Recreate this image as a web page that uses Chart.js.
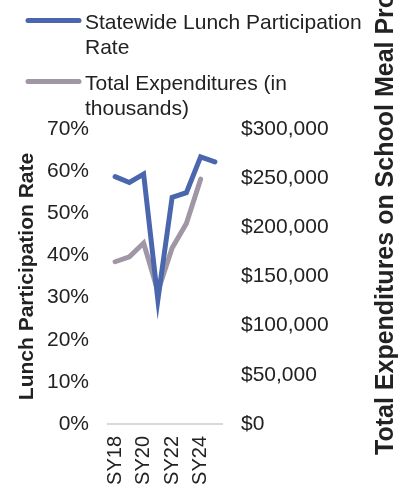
<!DOCTYPE html>
<html>
<head>
<meta charset="utf-8">
<script src="https://cdn.jsdelivr.net/npm/chart.js@4/dist/chart.umd.min.js"></script>
<style>
html,body{margin:0;padding:0;background:#fff;}
#wrap{width:409px;height:491px;position:relative;overflow:hidden;}
canvas{display:block;}
</style>
</head>
<body>
<div id="wrap"><canvas id="c" width="409" height="491"></canvas></div>
<script>
// ---- data ----
const categories = ['SY18', 'SY19', 'SY20', 'SY21', 'SY22', 'SY23', 'SY24', 'SY25'];
const participationRate = [58.7, 57.3, 59.3, 29.5, 53.8, 54.9, 63.4, 62.2];
const totalExpenditures = [165000, 170000, 184000, 135000, 179000, 204000, 249000, null];
const seriesNames = ['Statewide Lunch Participation Rate', 'Total Expenditures (in thousands)'];
const legendLines = [['Statewide Lunch Participation', 'Rate'], ['Total Expenditures (in', 'thousands)']];
const leftAxisTitle = 'Lunch Participation Rate';
const rightAxisTitle = 'Total Expenditures on School Meal Programs (in thousands)';
const leftTickMax = 70;
const rightTickMax = 300000;

const FONT = '"Liberation Sans", Arial, sans-serif';
const TEXT = '#222222';
const BLUE = '#4A67AE';
const GRAY = '#A096A6';

const legendPlugin = {
  id: 'customLegend',
  afterDraw(chart) {
    const ctx = chart.ctx;
    ctx.save();
    const entries = [
      { lines: legendLines[0], color: chart.data.datasets[0].borderColor, y: 20.5 },
      { lines: legendLines[1], color: chart.data.datasets[1].borderColor, y: 81.5 }
    ];
    ctx.font = '21px ' + FONT;
    ctx.fillStyle = TEXT;
    ctx.textAlign = 'left';
    ctx.textBaseline = 'alphabetic';
    entries.forEach(e => {
      ctx.strokeStyle = e.color;
      ctx.lineWidth = 5;
      ctx.lineCap = 'round';
      ctx.beginPath();
      ctx.moveTo(28, e.y);
      ctx.lineTo(79, e.y);
      ctx.stroke();
      e.lines.forEach((t, i) => {
        ctx.fillText(t, 85, e.y + 8 + i * 25);
      });
    });
    // right axis title (reads bottom to top)
    ctx.translate(393, 455);
    ctx.rotate(-Math.PI / 2);
    ctx.font = 'bold 25px ' + FONT;
    ctx.textAlign = 'left';
    ctx.textBaseline = 'alphabetic';
    ctx.fillText(rightAxisTitle, 0, 0);
    ctx.restore();
  }
};

new Chart(document.getElementById('c'), {
  type: 'line',
  data: {
    labels: categories,
    datasets: [
      {
        label: seriesNames[0],
        data: participationRate,
        yAxisID: 'y',
        borderColor: BLUE,
        backgroundColor: BLUE,
        borderWidth: 5,
        borderCapStyle: 'round',
        pointRadius: 0,
        tension: 0
      },
      {
        label: seriesNames[1],
        data: totalExpenditures,
        yAxisID: 'y2',
        borderColor: GRAY,
        backgroundColor: GRAY,
        borderWidth: 5,
        borderCapStyle: 'round',
        pointRadius: 0,
        tension: 0
      }
    ]
  },
  options: {
    responsive: false,
    animation: false,
    devicePixelRatio: 1,
    layout: { padding: { top: 129, left: 0, right: 0, bottom: 0 } },
    plugins: {
      legend: { display: false },
      tooltip: { enabled: false }
    },
    scales: {
      x: {
        offset: true,
        grid: { display: false, drawTicks: false },
        border: { display: true, color: '#D9D9D9', width: 2 },
        ticks: {
          autoSkip: false,
          minRotation: 90,
          maxRotation: 90,
          padding: 12,
          color: TEXT,
          font: { family: FONT, size: 20 },
          callback: function (v, i) { return i % 2 === 0 ? categories[i] : ''; }
        },
        afterFit(s) { s.height = 67; }
      },
      y: {
        position: 'left',
        min: 0,
        max: leftTickMax,
        grid: { display: false, drawTicks: false },
        border: { display: false },
        ticks: {
          stepSize: 10,
          padding: 19,
          color: TEXT,
          font: { family: FONT, size: 21 },
          callback: v => v + '%'
        },
        title: {
          display: true,
          text: leftAxisTitle,
          color: TEXT,
          font: { family: FONT, size: 21, weight: 'bold' },
          padding: { top: 15, bottom: 0 }
        },
        afterFit(s) { s.width = 108; }
      },
      y2: {
        position: 'right',
        min: 0,
        max: rightTickMax,
        grid: { display: false, drawTicks: false },
        border: { display: false },
        ticks: {
          stepSize: 50000,
          padding: 19,
          color: TEXT,
          font: { family: FONT, size: 21 },
          callback: v => '$' + Number(v).toLocaleString('en-US')
        },
        afterFit(s) { s.width = 187; }
      }
    }
  },
  plugins: [legendPlugin]
});
</script>
</body>
</html>
